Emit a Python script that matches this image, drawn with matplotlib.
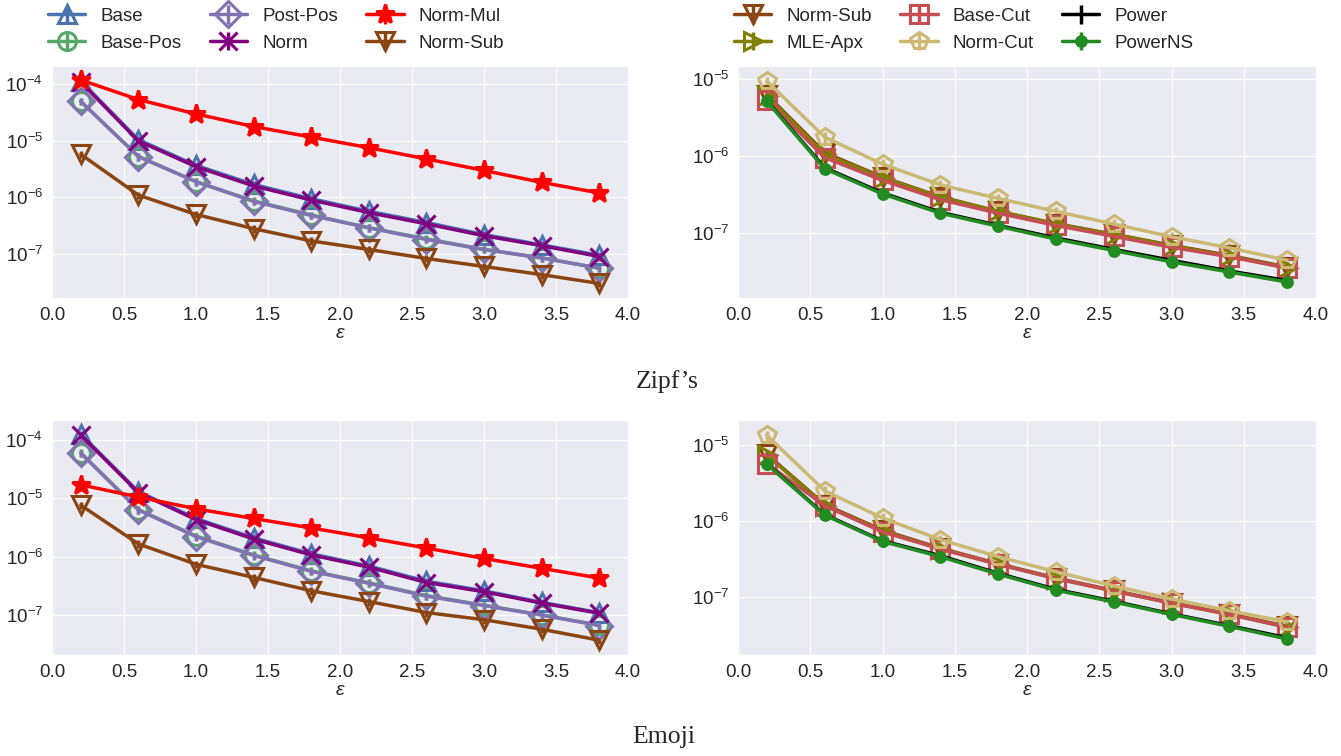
import matplotlib
matplotlib.use("Agg")
import matplotlib.pyplot as plt
import seaborn as sns
import numpy as np

eps = [0.2, 0.6, 1.0, 1.4, 1.8, 2.2, 2.6, 3.0, 3.4, 3.8]

# Zipf's, left panel
zipf_base = [1.15e-4, 1.05e-5, 3.7e-6, 1.7e-6, 9.5e-7, 5.7e-7, 3.6e-7, 2.2e-7, 1.45e-7, 9.5e-8]
zipf_base_pos = [5.0e-5, 5.3e-6, 1.9e-6, 8.7e-7, 4.9e-7, 2.9e-7, 1.85e-7, 1.2e-7, 8.5e-8, 5.6e-8]
zipf_post_pos = [5.0e-5, 5.3e-6, 1.9e-6, 8.5e-7, 4.8e-7, 2.9e-7, 1.8e-7, 1.2e-7, 8.5e-8, 5.6e-8]
zipf_norm = [1.1e-4, 1.0e-5, 3.5e-6, 1.6e-6, 9.0e-7, 5.4e-7, 3.4e-7, 2.1e-7, 1.4e-7, 9.0e-8]
zipf_norm_mul = [1.2e-4, 5.4e-5, 3.0e-5, 1.8e-5, 1.17e-5, 7.6e-6, 4.8e-6, 3.0e-6, 1.85e-6, 1.2e-6]
zipf_norm_sub = [5.8e-6, 1.1e-6, 5.0e-7, 2.8e-7, 1.7e-7, 1.2e-7, 8.3e-8, 6.0e-8, 4.3e-8, 3.0e-8]

# Zipf's, right panel
zipf_r_norm_sub = [6.2e-6, 1.1e-6, 5.3e-7, 2.95e-7, 1.9e-7, 1.32e-7, 9.6e-8, 6.9e-8, 5.1e-8, 3.6e-8]
zipf_mle_apx = [6.0e-6, 1.05e-6, 5.2e-7, 2.9e-7, 1.9e-7, 1.3e-7, 9.5e-8, 6.8e-8, 5.0e-8, 3.5e-8]
zipf_base_cut = [5.3e-6, 9.5e-7, 4.8e-7, 2.7e-7, 1.8e-7, 1.25e-7, 9.0e-8, 6.5e-8, 4.9e-8, 3.5e-8]
zipf_norm_cut = [9.3e-6, 1.75e-6, 7.8e-7, 4.2e-7, 2.8e-7, 1.9e-7, 1.3e-7, 8.9e-8, 6.4e-8, 4.4e-8]
zipf_power = [5.2e-6, 7.0e-7, 3.3e-7, 1.85e-7, 1.25e-7, 8.6e-8, 6.1e-8, 4.4e-8, 3.2e-8, 2.4e-8]
zipf_power_ns = [5.1e-6, 6.8e-7, 3.2e-7, 1.8e-7, 1.22e-7, 8.3e-8, 5.9e-8, 4.2e-8, 3.1e-8, 2.3e-8]

# Emoji, left panel
emoji_base = [1.25e-4, 1.3e-5, 4.5e-6, 2.1e-6, 1.12e-6, 6.9e-7, 3.8e-7, 2.6e-7, 1.65e-7, 1.1e-7]
emoji_base_pos = [6.0e-5, 6.4e-6, 2.25e-6, 1.07e-6, 5.7e-7, 3.55e-7, 2.15e-7, 1.47e-7, 1.0e-7, 6.7e-8]
emoji_post_pos = [5.9e-5, 6.3e-6, 2.2e-6, 1.05e-6, 5.6e-7, 3.5e-7, 2.1e-7, 1.45e-7, 1.0e-7, 6.6e-8]
emoji_norm = [1.2e-4, 1.25e-5, 4.3e-6, 2.0e-6, 1.07e-6, 6.6e-7, 3.6e-7, 2.5e-7, 1.6e-7, 1.07e-7]
emoji_norm_mul = [1.7e-5, 1.05e-5, 6.6e-6, 4.5e-6, 3.1e-6, 2.1e-6, 1.4e-6, 9.3e-7, 6.3e-7, 4.3e-7]
emoji_norm_sub = [7.6e-6, 1.65e-6, 7.4e-7, 4.4e-7, 2.6e-7, 1.7e-7, 1.1e-7, 8.3e-8, 5.7e-8, 3.7e-8]

# Emoji, right panel
emoji_r_norm_sub = [7.6e-6, 1.65e-6, 7.6e-7, 4.4e-7, 2.75e-7, 1.78e-7, 1.22e-7, 8.4e-8, 6.0e-8, 4.1e-8]
emoji_mle_apx = [7.4e-6, 1.6e-6, 7.4e-7, 4.3e-7, 2.7e-7, 1.75e-7, 1.2e-7, 8.3e-8, 5.9e-8, 4.0e-8]
emoji_base_cut = [5.7e-6, 1.6e-6, 7.2e-7, 4.3e-7, 2.7e-7, 1.75e-7, 1.2e-7, 8.3e-8, 5.9e-8, 4.0e-8]
emoji_norm_cut = [1.35e-5, 2.5e-6, 1.1e-6, 5.7e-7, 3.4e-7, 2.15e-7, 1.4e-7, 9.4e-8, 6.6e-8, 4.7e-8]
emoji_power = [5.7e-6, 1.22e-6, 5.5e-7, 3.5e-7, 2.05e-7, 1.26e-7, 8.8e-8, 6.0e-8, 4.2e-8, 2.9e-8]
emoji_power_ns = [5.6e-6, 1.2e-6, 5.4e-7, 3.4e-7, 2.0e-7, 1.23e-7, 8.6e-8, 5.9e-8, 4.1e-8, 2.8e-8]

err_frac = 0.15  # relative half-width of the error bars

sns.set_style("darkgrid")
plt.rcParams['font.family'] = ['Liberation Sans', 'DejaVu Sans']
plt.rcParams['mathtext.fontset'] = 'custom'
plt.rcParams['mathtext.rm'] = 'Liberation Sans'
plt.rcParams['mathtext.it'] = 'Liberation Sans:italic'

# label, marker, color, filled
left_styles = [
    ("Base", "^", "#4C72B0", False),
    ("Base-Pos", "o", "#55A868", False),
    ("Post-Pos", "D", "#8172B2", False),
    ("Norm", "x", "purple", False),
    ("Norm-Mul", "*", "red", True),
    ("Norm-Sub", "v", "#8B4513", False),
]
right_styles = [
    ("Norm-Sub", "v", "#8B4513", False),
    ("MLE-Apx", ">", "#808000", False),
    ("Base-Cut", "s", "#C44E52", False),
    ("Norm-Cut", "p", "#CCB974", False),
    ("Power", "", "black", True),
    ("PowerNS", "o", "#228B22", True),
]

fig = plt.figure(figsize=(13.41, 7.56), dpi=100)
W, H = 1341, 756
boxes = {
    "tl": [52 / W, 1 - 298 / H, 576 / W, 232 / H],
    "tr": [738 / W, 1 - 298 / H, 578 / W, 232 / H],
    "bl": [52 / W, 1 - 655 / H, 576 / W, 235 / H],
    "br": [738 / W, 1 - 655 / H, 578 / W, 235 / H],
}


def draw(ax, styles, series, legend):
    for (label, marker, color, filled), y in zip(styles, series):
        y = np.array(y)
        if marker == "o" and filled:
            ms = 7
        elif marker == "*":
            ms = 14
        else:
            ms = 13
        ax.errorbar(eps, y, yerr=err_frac * y, label=label, color=color,
                    marker=marker if marker else None, markersize=ms,
                    markerfacecolor=color if filled else "none",
                    markeredgecolor=color, markeredgewidth=2.2,
                    linewidth=2.5, elinewidth=2.5, capsize=0)
    ax.set_yscale("log")
    ax.set_xlim(0, 4.0)
    ax.set_xticks(np.arange(0, 4.01, 0.5))
    ax.tick_params(labelsize=13.5, pad=3)
    ax.set_xlabel("ε", fontsize=14, style="italic", labelpad=1)
    if legend:
        ax.legend(loc="lower left", bbox_to_anchor=(-0.02, 1.03), ncol=3,
                  frameon=False, fontsize=13.5, columnspacing=1.5,
                  handlelength=2.0, borderaxespad=0, handletextpad=0.8,
                  labelspacing=0.5)


ax = fig.add_axes(boxes["tl"])
draw(ax, left_styles, [zipf_base, zipf_base_pos, zipf_post_pos, zipf_norm, zipf_norm_mul, zipf_norm_sub], True)
ax = fig.add_axes(boxes["tr"])
draw(ax, right_styles, [zipf_r_norm_sub, zipf_mle_apx, zipf_base_cut, zipf_norm_cut, zipf_power, zipf_power_ns], True)
ax = fig.add_axes(boxes["bl"])
draw(ax, left_styles, [emoji_base, emoji_base_pos, emoji_post_pos, emoji_norm, emoji_norm_mul, emoji_norm_sub], False)
ax = fig.add_axes(boxes["br"])
draw(ax, right_styles, [emoji_r_norm_sub, emoji_mle_apx, emoji_base_cut, emoji_norm_cut, emoji_power, emoji_power_ns], False)

fig.text(667 / W, 1 - 382 / H, "Zipf’s", ha="center", va="center", fontsize=18.5, family="Liberation Serif")
fig.text(664 / W, 1 - 737 / H, "Emoji", ha="center", va="center", fontsize=18.5, family="Liberation Serif")

fig.savefig("out.png", dpi=100)
